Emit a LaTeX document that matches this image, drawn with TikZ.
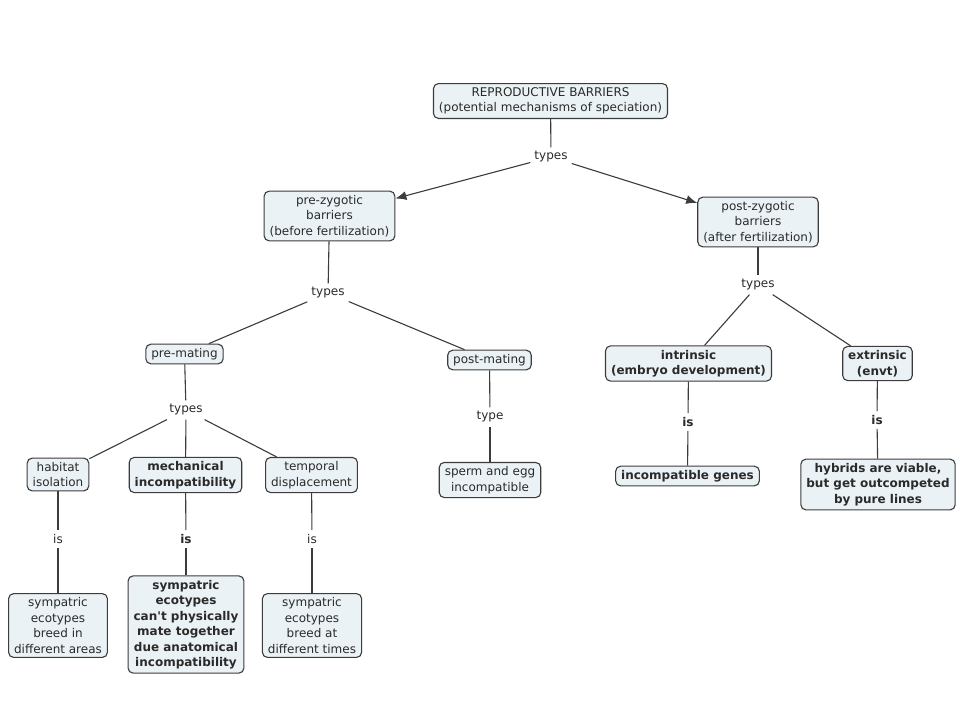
\documentclass[tikz,border=0pt]{standalone}
\usepackage{fontspec}
\setmainfont{DejaVu Sans}
\usetikzlibrary{arrows.meta}
\newcommand{\sq}{\XeTeXglyph\XeTeXcharglyph"0027\relax}
\definecolor{boxfill}{HTML}{EBF2F5}
\definecolor{boxline}{HTML}{3C3C3C}
\definecolor{txt}{HTML}{2A2A2A}
\tikzset{
  concept/.style={draw=boxline, line width=1.1pt, fill=boxfill, rounded corners=5pt,
    align=center, inner xsep=5.5pt, inner ysep=4pt, text=txt,
    font=\fontsize{12}{15.5}\selectfont},
  bconcept/.style={concept, font=\fontsize{12}{15.5}\selectfont\bfseries},
  link/.style={text=txt, inner sep=4pt, font=\fontsize{12}{14}\selectfont},
  blink/.style={link, font=\fontsize{12}{14}\selectfont\bfseries},
  conn/.style={draw=boxline, line width=1.1pt},
  arr/.style={conn, -{Latex[length=11pt,width=9pt]}}
}
\begin{document}
\begin{tikzpicture}[x=1pt,y=-1pt]
\useasboundingbox (0,0) rectangle (960,720);
\fill[white] (0,0) rectangle (960,720);
% concepts
\node[concept] (root) at (550.5,101) {REPRODUCTIVE BARRIERS\\(potential mechanisms of speciation)};
\node[concept] (pre) at (329.5,216) {pre-zygotic\\barriers\\(before fertilization)};
\node[concept] (post) at (758,222) {post-zygotic\\barriers\\(after fertilization)};
\node[concept] (prem) at (184.5,354) {pre-mating};
\node[concept] (postm) at (489.5,360) {post-mating};
\node[concept] (hab) at (58,474.5) {habitat\\isolation};
\node[bconcept] (mech) at (185.5,475) {mechanical\\incompatibility};
\node[concept] (temp) at (311.5,475) {temporal\\displacement};
\node[concept] (habd) at (58,625.5) {sympatric\\ecotypes\\breed in\\different areas};
\node[bconcept] (mechd) at (186,624.5) {sympatric\\ecotypes\\can\sq t physically\\mate together\\due anatomical\\incompatibility};
\node[concept] (tempd) at (312,625.5) {sympatric\\ecotypes\\breed at\\different times};
\node[concept] (sperm) at (490,480) {sperm and egg\\incompatible};
\node[bconcept] (intr) at (688.5,363.5) {intrinsic\\(embryo development)};
\node[bconcept] (extr) at (877.5,363.5) {extrinsic\\(envt)};
\node[bconcept] (genes) at (687.5,476) {incompatible genes};
\node[bconcept] (hyb) at (878,484.5) {hybrids are viable,\\but get outcompeted\\by pure lines};
% linking phrases
\node[link] (t1) at (551,157) {types};
\node[link] (t2) at (328,293) {types};
\node[link] (t3) at (186,410) {types};
\node[link] (t4) at (490,417) {type};
\node[link] (t5) at (758,285) {types};
\node[link] (i1) at (58,539) {is};
\node[blink] (i2) at (186,539) {is};
\node[link] (i3) at (312,539) {is};
\node[blink] (i4) at (688,422) {is};
\node[blink] (i5) at (877,420) {is};
% connectors
\draw[conn] (root) -- (t1);
\draw[arr] (t1) -- (pre);
\draw[arr] (t1) -- (post);
\draw[conn] (pre) -- (t2);
\draw[conn] (t2) -- (prem);
\draw[conn] (t2) -- (postm);
\draw[conn] (prem) -- (t3);
\draw[conn] (t3) -- (hab);
\draw[conn] (t3) -- (mech);
\draw[conn] (t3) -- (temp);
\draw[conn] (hab) -- (i1);
\draw[conn] (i1) -- (habd);
\draw[conn] (mech) -- (i2);
\draw[conn] (i2) -- (mechd);
\draw[conn] (temp) -- (i3);
\draw[conn] (i3) -- (tempd);
\draw[conn] (postm) -- (t4);
\draw[conn] (t4) -- (sperm);
\draw[conn] (post) -- (t5);
\draw[conn] (t5) -- (intr);
\draw[conn] (t5) -- (extr);
\draw[conn] (intr) -- (i4);
\draw[conn] (i4) -- (genes);
\draw[conn] (extr) -- (i5);
\draw[conn] (i5) -- (hyb);
\end{tikzpicture}
\end{document}
